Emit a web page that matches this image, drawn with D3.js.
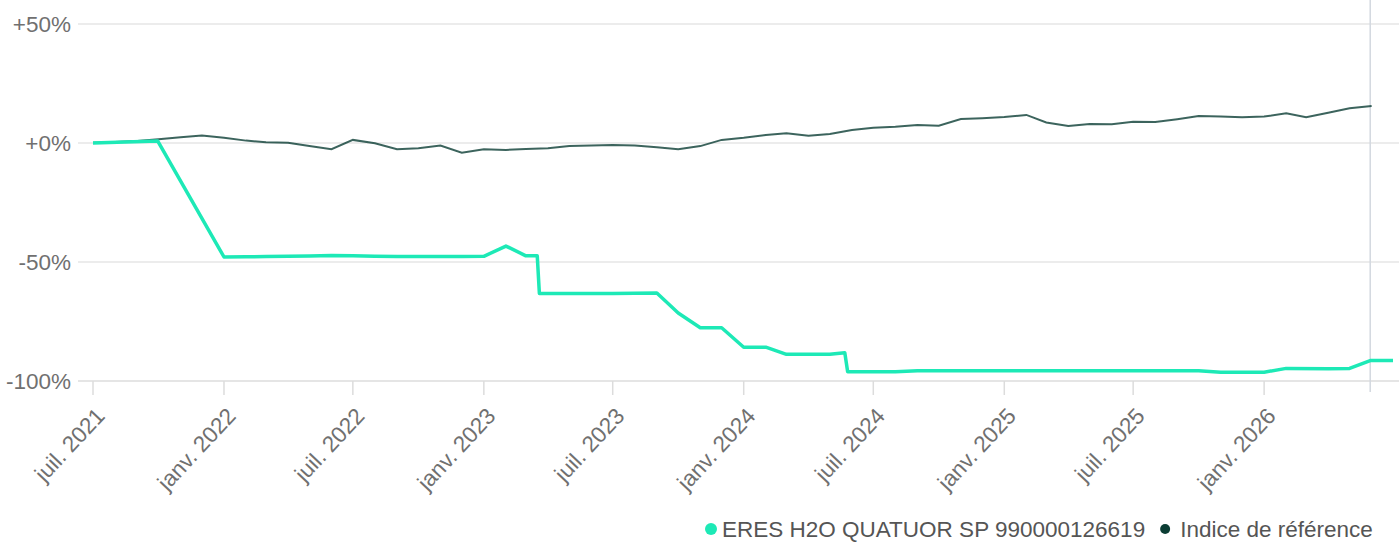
<!DOCTYPE html>
<html>
<head>
<meta charset="utf-8">
<script src="https://cdn.jsdelivr.net/npm/d3@7"></script>
<style>
  body { margin: 0; background: #fff; }
  svg { display: block; font-family: "Liberation Sans", Arial, sans-serif; }
</style>
</head>
<body>
<svg id="chart" width="1399" height="542"></svg>
<script>
// fund series (irregular dates, the drops are steep)
const fundDates = ["2021-07-01","2021-09-30","2022-01-01","2022-02-01","2022-03-01","2022-04-01","2022-05-01",
  "2022-06-01","2022-07-01","2022-08-01","2022-09-01","2022-10-01","2022-11-01","2022-12-01","2023-01-01",
  "2023-02-01","2023-03-01","2023-03-17","2023-03-20","2023-05-01","2023-07-01","2023-09-01","2023-10-01",
  "2023-11-01","2023-12-01","2024-01-01","2024-02-01","2024-03-01","2024-05-01","2024-05-22","2024-05-26",
  "2024-08-01","2024-09-01","2025-01-01","2025-06-01","2025-10-01","2025-11-01","2026-01-01","2026-02-01",
  "2026-04-01","2026-05-01","2026-05-30","2026-07-01"];
const fundValues = [0, 0.8, -47.9, -47.8, -47.7, -47.6, -47.5,
  -47.3, -47.4, -47.6, -47.7, -47.7, -47.7, -47.7, -47.6,
  -43.3, -47.4, -47.4, -63.2, -63.2, -63.2, -63.0, -71.4,
  -77.6, -77.6, -85.8, -85.8, -88.8, -88.8, -88.1, -96.1,
  -96.1, -95.7, -95.7, -95.7, -95.7, -96.3, -96.3, -94.7,
  -94.9, -94.7, -91.4, -91.4];

// benchmark, monthly
const benchDates = d3.timeMonths(new Date(2021, 6, 1), new Date(2026, 6, 2));
const benchValues = [0.1, 0.4, 0.8, 1.6, 2.4, 3.1, 2.2, 1.0, 0.3, 0.1, -1.3, -2.6,
  1.3, -0.1, -2.6, -2.2, -1.1, -4.1, -2.6, -2.9, -2.5, -2.2, -1.3, -1.0,
  -0.8, -1.1, -1.8, -2.6, -1.3, 1.3, 2.2, 3.4, 4.1, 3.1, 3.8, 5.5,
  6.4, 6.8, 7.6, 7.3, 10.1, 10.4, 10.9, 11.8, 8.6, 7.1, 8.0, 7.9,
  8.9, 8.8, 10.0, 11.3, 11.1, 10.8, 11.1, 12.5, 10.8, 12.7, 14.6, 15.5];

const yTicks = [50, 0, -50, -100];
const xTickDates = d3.timeMonths(new Date(2021, 6, 1), new Date(2026, 0, 2), 6);
const monthsFr = ["janv.","févr.","mars","avr.","mai","juin","juil.","août","sept.","oct.","nov.","déc."];
const cursorDate = "2026-05-30";

const series = [
  { name: "ERES H2O QUATUOR SP 990000126619", color: "#1de9b6" },
  { name: "Indice de référence", color: "#0b3d34" }
];

const W = 1399, H = 542;
const fs = 22.5;
const svg = d3.select("#chart");
const parse = d3.timeParse("%Y-%m-%d");

const x = d3.scaleTime()
  .domain([new Date(2021, 6, 1), new Date(2026, 6, 1)])
  .range([93, 1393]);
const y = d3.scaleLinear().domain([-100, 50]).range([381, 24]);

// horizontal grid + y labels
const yAxis = svg.append("g").attr("transform", "translate(78,0)");
yAxis.selectAll("line").data(yTicks).join("line")
  .attr("x1", 0).attr("x2", W - 78)
  .attr("y1", d => y(d)).attr("y2", d => y(d))
  .attr("stroke", d => d === -100 ? "#dcdcdc" : "#e6e6e6")
  .attr("stroke-width", 1.5);
yAxis.selectAll("text").data(yTicks).join("text")
  .attr("x", -7).attr("y", d => y(d)).attr("dy", "0.35em")
  .attr("text-anchor", "end")
  .attr("font-size", fs).attr("fill", "#707070")
  .text(d => (d >= 0 ? "+" : "") + d + "%");

// x ticks
const xAxis = svg.append("g").attr("transform", "translate(0,381)");
xAxis.selectAll("line").data(xTickDates).join("line")
  .attr("x1", d => x(d)).attr("x2", d => x(d))
  .attr("y1", 0).attr("y2", 14)
  .attr("stroke", "#dcdcdc").attr("stroke-width", 1.5);
xAxis.selectAll("text").data(xTickDates).join("text")
  .attr("text-anchor", "end")
  .attr("transform", d => `translate(${x(d) + 13},${36}) rotate(-47)`)
  .attr("font-size", fs).attr("fill", "#707070")
  .text(d => monthsFr[d.getMonth()] + " " + d.getFullYear());

// cursor line
svg.append("line")
  .attr("x1", x(parse(cursorDate))).attr("x2", x(parse(cursorDate)))
  .attr("y1", 0).attr("y2", 392)
  .attr("stroke", "#d3d8df").attr("stroke-width", 1.5);

const line = d3.line().x(d => x(d[0])).y(d => y(d[1]));

svg.append("path")
  .datum(benchDates.map((d, i) => [d, benchValues[i]]))
  .attr("d", line)
  .attr("fill", "none")
  .attr("stroke", series[1].color)
  .attr("stroke-opacity", 0.8)
  .attr("stroke-width", 2);

svg.append("path")
  .datum(fundDates.map((d, i) => [parse(d), fundValues[i]]))
  .attr("d", line)
  .attr("fill", "none")
  .attr("stroke", series[0].color)
  .attr("stroke-width", 3.5)
  .attr("stroke-linejoin", "round");

// legend
const legend = svg.append("g").attr("transform", "translate(711,529)");
let lx = 0;
series.forEach((s, i) => {
  const g = legend.append("g").attr("transform", `translate(${lx},0)`);
  g.append("circle").attr("r", i === 0 ? 6 : 5).attr("fill", s.color);
  const t = g.append("text")
    .attr("x", i === 0 ? 11 : 15).attr("dy", "0.35em")
    .attr("font-size", fs).attr("fill", "#555")
    .text(s.name);
  lx += 11 + t.node().getComputedTextLength() + 20;
});
</script>
</body>
</html>
